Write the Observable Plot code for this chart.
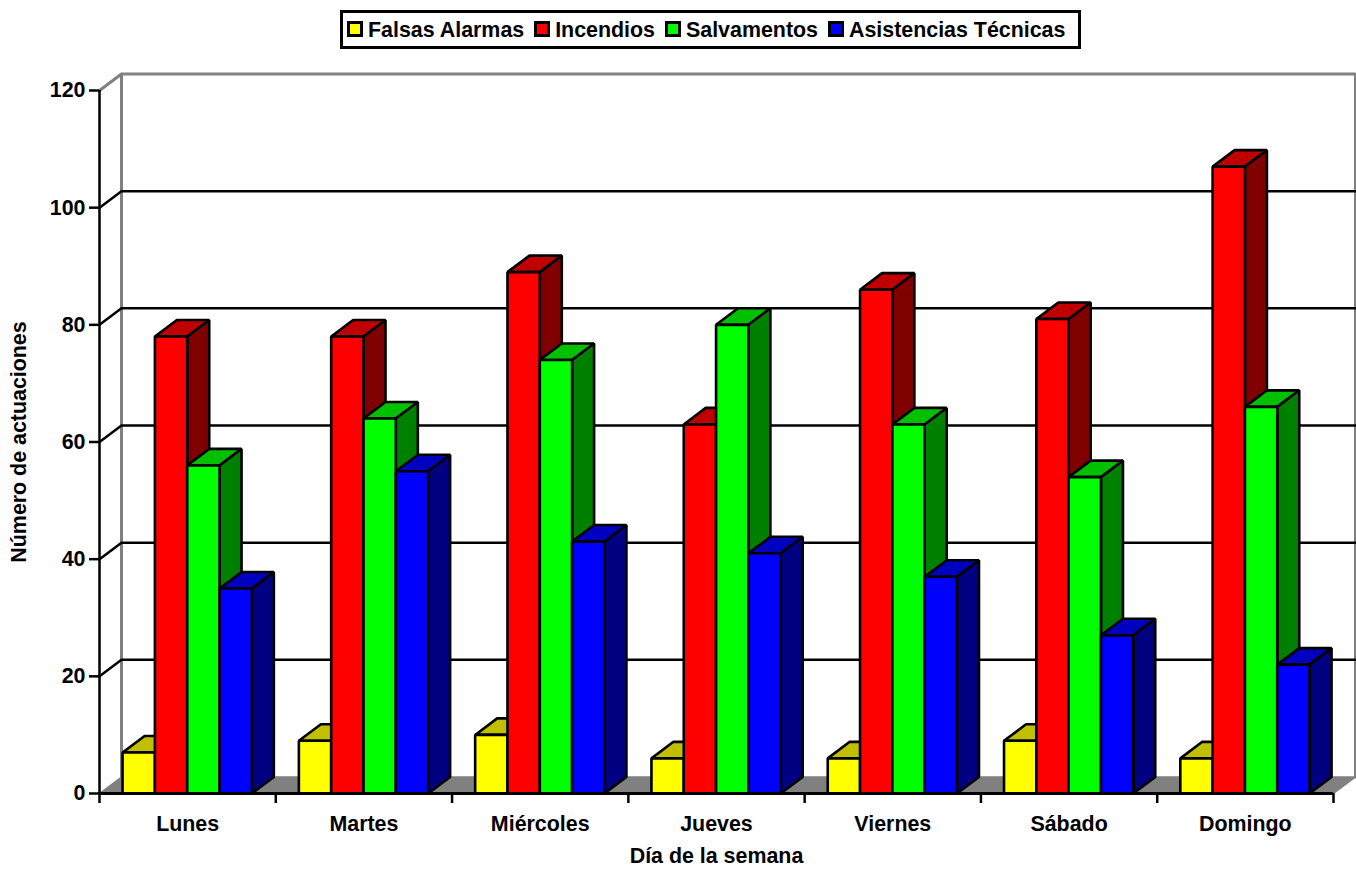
<!DOCTYPE html>
<html lang="es">
<head>
<meta charset="utf-8">
<script src="https://cdn.jsdelivr.net/npm/d3@7"></script>
<script src="https://cdn.jsdelivr.net/npm/@observablehq/plot@0.6"></script>
<style>
  html, body { margin: 0; padding: 0; background: #fff; overflow: hidden; }
  #legendRow { height: 62px; position: relative; font: bold 21.4px "Liberation Sans", Arial, sans-serif; color: #000; }
  #legend { position: absolute; left: 340px; top: 10px; width: 741px; height: 39px; box-sizing: border-box;
            border: 3px solid #000; display: flex; align-items: center; padding-left: 4px; padding-bottom: 2px; white-space: nowrap; }
  #legend .item { display: flex; align-items: center; margin-right: 10px; }
  #legend .item span { position: relative; top: 1.5px; }
  #legend .sw { width: 16px; height: 16px; box-sizing: border-box; border: 3px solid #000; margin-right: 5px; }
  svg { display: block; }
</style>
</head>
<body>
<div id="legendRow"><div id="legend"></div></div>
<div id="chart"></div>
<script>
const dias = ["Lunes", "Martes", "Miércoles", "Jueves", "Viernes", "Sábado", "Domingo"];
const falsasAlarmas = [7, 9, 10, 6, 6, 9, 6];
const incendios = [78, 78, 89, 63, 86, 81, 107];
const salvamentos = [56, 64, 74, 80, 63, 54, 66];
const asistencias = [35, 55, 43, 41, 37, 27, 22];
const yTicks = [0, 20, 40, 60, 80, 100, 120];

const seriesNames = ["Falsas Alarmas", "Incendios", "Salvamentos", "Asistencias Técnicas"];
const seriesValues = [falsasAlarmas, incendios, salvamentos, asistencias];
const faceColors = ["#ffff00", "#ff0000", "#00ff00", "#0000ff"];
const topColors = ["#c0c000", "#c00000", "#00c000", "#0000c0"];
const sideColors = ["#808000", "#800000", "#008000", "#000080"];

// Oblique projection depth, in scale units
const dx = 0.1248, dy = 2.82;
const barW = 0.1833, groupPad = 0.131;

const polys = [];
function poly(id, fill, pts) {
  [...pts, pts[0]].forEach(([x, y]) => polys.push({id, fill, x, y}));
}
dias.forEach((d, i) => {
  seriesValues.forEach((vals, j) => {
    const v = vals[i];
    const x0 = i + groupPad + j * barW, x1 = x0 + barW;
    poly(`${d}-${j}-top`, topColors[j], [[x0, v], [x1, v], [x1 + dx, v + dy], [x0 + dx, v + dy]]);
    poly(`${d}-${j}-side`, sideColors[j], [[x1, 0], [x1 + dx, dy], [x1 + dx, v + dy], [x1, v]]);
    poly(`${d}-${j}-front`, faceColors[j], [[x0, 0], [x1, 0], [x1, v], [x0, v]]);
  });
});

const xMax = dias.length, yMax = 120;
const floor = [[0, 0], [dx, dy], [xMax + dx, dy], [xMax, 0], [0, 0]].map(([x, y]) => ({x, y}));
const gridRows = yTicks.filter(t => t > 0 && t < yMax).flatMap(t =>
  [[0, t], [dx, t + dy], [xMax + dx, t + dy]].map(([x, y]) => ({t, x, y})));
const wall = [[dx, dy], [dx, yMax + dy], [xMax + dx, yMax + dy], [xMax + dx, dy]].map(([x, y]) => ({x, y}));
const wallLeftEdge = [[0, yMax], [dx, yMax + dy]].map(([x, y]) => ({x, y}));

const chart = Plot.plot({
  width: 1356,
  height: 808,
  marginLeft: 99,
  marginRight: 23,
  marginTop: 28,
  marginBottom: 77,
  x: {type: "linear", domain: [0, xMax]},
  y: {type: "linear", domain: [0, yMax]},
  color: {type: "identity"},
  style: {fontFamily: "'Liberation Sans', Arial, sans-serif", fontWeight: "bold", fontSize: "21.4px", color: "#000", background: "#fff", overflow: "visible"},
  marks: [
    Plot.line(floor, {x: "x", y: "y", fill: "#808080", stroke: "#808080", strokeWidth: 1.5}),
    Plot.line(wall, {x: "x", y: "y", stroke: "#808080", strokeWidth: 3, strokeLinejoin: "miter"}),
    Plot.line(wallLeftEdge, {x: "x", y: "y", stroke: "#808080", strokeWidth: 3}),
    Plot.line(gridRows, {x: "x", y: "y", z: "t", stroke: "#000", strokeWidth: 2.5, strokeLinejoin: "miter"}),
    Plot.line(polys, {x: "x", y: "y", z: "id", fill: "fill", stroke: "#000", strokeWidth: 2.6, strokeLinejoin: "miter", strokeLinecap: "butt"}),
    Plot.ruleX([0], {stroke: "#000", strokeWidth: 2.5}),
    Plot.ruleY([0], {stroke: "#000", strokeWidth: 3}),
    Plot.axisY({ticks: yTicks, tickSize: 10, tickPadding: 4, strokeWidth: 2.5, stroke: "#000", fill: "#000",
      label: "Número de actuaciones", labelAnchor: "center", labelArrow: "none", labelOffset: 89}),
    Plot.axisX({ticks: d3.range(0, xMax + 1), tickSize: 10, tickFormat: () => "", strokeWidth: 2.5, stroke: "#000", label: null}),
    Plot.axisX({ticks: dias.map((d, i) => i + 0.5), tickSize: 0, tickPadding: 22, tickFormat: t => dias[t - 0.5], fill: "#000",
      label: "Día de la semana", labelAnchor: "center", labelArrow: "none", labelOffset: 69})
  ]
});
document.getElementById("chart").append(chart);

const legend = d3.select("#legend");
seriesNames.forEach((name, j) => {
  const item = legend.append("div").attr("class", "item");
  item.append("div").attr("class", "sw").style("background", faceColors[j]);
  item.append("span").text(name);
});
</script>
</body>
</html>
